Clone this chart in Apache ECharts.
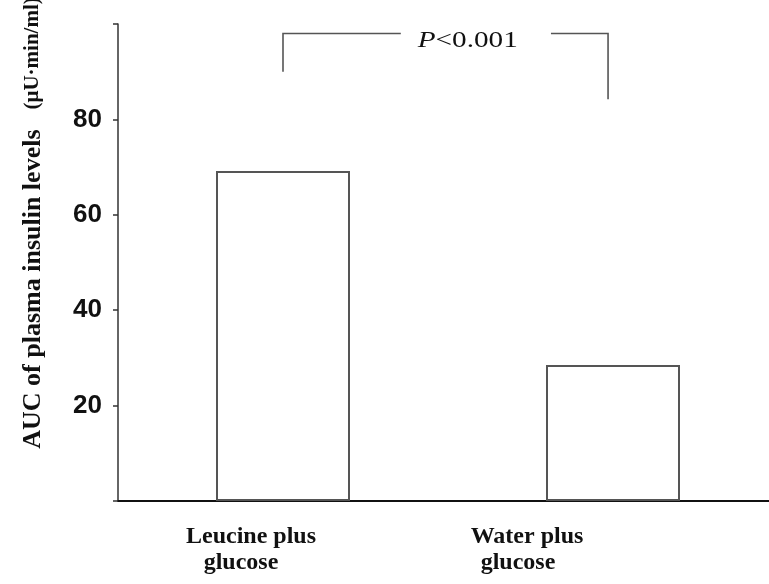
<!DOCTYPE html>
<html>
<head>
<meta charset="utf-8">
<script src="https://cdn.jsdelivr.net/npm/echarts@6/dist/echarts.min.js"></script>
<style>
  html, body { margin: 0; padding: 0; background: #ffffff; }
  #chart { width: 769px; height: 584px; }
</style>
</head>
<body>
<div id="chart"></div>
<script>
// Group labels (two lines each) and AUC values in µU·min/ml
const categories = ['Leucine plus\nglucose', 'Water plus\nglucose'];
const aucValues = [69.2, 28.5];

// Value axis range and tick step
const yMin = 0;
const yMax = 100;
const yStep = 20;

// Axis title, split into the measure and its unit
const yTitle = 'AUC of plasma insulin levels';
const yUnit = '(μU·min/ml)';

// Significance bracket: top level and where each leg ends
const significanceLabel = 'P<0.001';
const bracketTop = 98;
const bracketLegEnds = [90, 84.2];

// Per-category horizontal shift of the label lines (px, negative = left)
const labelShift = [[-32, -42], [-86, -95]];

const serif = '"Liberation Serif", "Times New Roman", serif';
const sans = '"Liberation Sans", Arial, sans-serif';
const lineColor = '#555555';

const chart = echarts.init(document.getElementById('chart'), null, { renderer: 'canvas' });

// rich styles so each line can sit at its own offset below the bar
const rich = {};
labelShift.forEach((pair, i) => {
  pair.forEach((s, j) => {
    rich['c' + i + 'l' + j] = {
      fontFamily: serif,
      fontWeight: 'bold',
      fontSize: 24,
      lineHeight: 26,
      color: '#111111',
      padding: [0, -2 * s, 0, 0]
    };
  });
});

chart.setOption({
  animation: false,
  backgroundColor: '#ffffff',
  grid: {
    left: 118,
    top: 24,
    bottom: 83,
    right: -9,
    containLabel: false,
    outerBoundsMode: 'none'
  },
  xAxis: {
    type: 'category',
    data: categories,
    axisLine: { show: true, lineStyle: { color: '#111111', width: 2 } },
    axisTick: { show: false },
    splitLine: { show: false },
    axisLabel: {
      interval: 0,
      margin: 23,
      align: 'center',
      formatter: (value, idx) => {
        const lines = value.split('\n');
        return lines.map((t, j) => '{c' + idx + 'l' + j + '|' + t + '}').join('\n');
      },
      rich: rich
    }
  },
  yAxis: {
    type: 'value',
    min: yMin,
    max: yMax,
    interval: yStep,
    name: '{t|' + yTitle + '}{u|' + yUnit + '}',
    nameLocation: 'middle',
    nameRotate: 90,
    nameGap: 72,
    nameTextStyle: {
      fontFamily: serif,
      fontWeight: 'bold',
      fontSize: 26,
      color: '#111111',
      padding: [0, 0, 0, 79],
      rich: {
        t: { fontFamily: serif, fontWeight: 'bold', fontSize: 26, color: '#111111' },
        u: { fontFamily: serif, fontWeight: 'bold', fontSize: 21, color: '#111111', padding: [0, 0, 0, 20] }
      }
    },
    axisLine: { show: true, lineStyle: { color: '#333333', width: 1.5 } },
    axisTick: { show: true, inside: false, length: 5, lineStyle: { color: '#333333', width: 1.5 } },
    splitLine: { show: false },
    axisLabel: {
      margin: 16,
      fontFamily: sans,
      fontWeight: 'bold',
      fontSize: 26,
      color: '#111111',
      formatter: v => (v === yMin || v === yMax) ? '' : String(v)
    }
  },
  series: [{
    type: 'bar',
    data: aucValues,
    barWidth: 134,
    itemStyle: {
      color: '#ffffff',
      borderColor: lineColor,
      borderWidth: 2
    },
    emphasis: { disabled: true }
  }]
});

// Significance bracket positioned from the category centres and value levels
function drawBracket() {
  const toPx = (c, v) => chart.convertToPixel({ gridIndex: 0 }, [c, v]);
  const pTopL = toPx(0, bracketTop);
  const pTopR = toPx(1, bracketTop);
  const x0 = pTopL[0];
  const span = pTopR[0] - x0;
  const yTop = pTopL[1];
  const xLeftLeg = x0;
  const xRightLeg = x0 + span * 0.985;
  const yLeftEnd = toPx(0, bracketLegEnds[0])[1];
  const yRightEnd = toPx(1, bracketLegEnds[1])[1];
  const gapL = x0 + span * 0.357;
  const gapR = x0 + span * 0.812;
  const textX = x0 + span * 0.56;

  const ls = { stroke: lineColor, lineWidth: 1.6, fill: null };
  chart.setOption({
    graphic: [
      {
        type: 'polyline', silent: true,
        shape: { points: [[xLeftLeg, yLeftEnd], [xLeftLeg, yTop], [gapL, yTop]] },
        style: ls
      },
      {
        type: 'polyline', silent: true,
        shape: { points: [[gapR, yTop], [xRightLeg, yTop], [xRightLeg, yRightEnd]] },
        style: ls
      },
      {
        type: 'text', silent: true,
        x: textX, y: yTop + 7,
        scaleX: 1.27,
        style: {
          text: '{i|P}{r|' + significanceLabel.slice(1) + '}',
          align: 'center',
          verticalAlign: 'middle',
          rich: {
            i: { fontFamily: serif, fontStyle: 'italic', fontSize: 23, fill: '#111111' },
            r: { fontFamily: serif, fontSize: 23, fill: '#111111' }
          }
        }
      }
    ]
  });
}
drawBracket();
</script>
</body>
</html>
